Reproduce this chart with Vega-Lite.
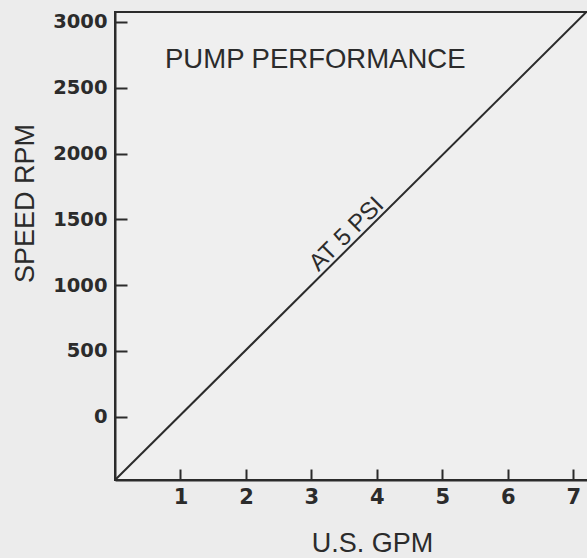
{
  "$schema": "https://vega.github.io/schema/vega-lite/v6.json",
  "width": 474,
  "height": 468,
  "autosize": {"type": "none"},
  "padding": {"left": 115, "top": 12, "right": 0, "bottom": 78},
  "background": "#ececec",
  "config": {
    "view": {"stroke": "#2b2b2b", "strokeWidth": 2, "fill": "#efefef"},
    "font": "Liberation Sans"
  },
  "layer": [
    {
      "data": {"values": [{"gpm": 0, "rpm": -480}, {"gpm": 7.2, "rpm": 3075}]},
      "mark": {"type": "line", "color": "#2b2b2b", "strokeWidth": 2},
      "encoding": {
        "x": {
          "field": "gpm", "type": "quantitative",
          "scale": {"domain": [0, 7.24], "nice": false, "zero": false},
          "axis": {
            "values": [1, 2, 3, 4, 5, 6, 7], "format": "d", "title": "U.S. GPM", "grid": false,
            "domainColor": "#2b2b2b", "domainWidth": 2,
            "tickColor": "#2b2b2b", "tickWidth": 2, "tickSize": -11,
            "labelPadding": 17, "labelFont": "DejaVu Sans", "labelFontSize": 21, "labelFontWeight": "bold", "labelColor": "#2b2b2b",
            "titleFontSize": 27, "titleFontWeight": "normal", "titleColor": "#2b2b2b",
            "titleX": 257, "titleY": 71, "titleBaseline": "alphabetic", "titleAlign": "center"
          }
        },
        "y": {
          "field": "rpm", "type": "quantitative",
          "scale": {"domain": [-480, 3075], "nice": false, "zero": false},
          "axis": {
            "values": [0, 500, 1000, 1500, 2000, 2500, 3000], "title": "SPEED RPM", "grid": false,
            "format": "d",
            "domainColor": "#2b2b2b", "domainWidth": 2,
            "tickColor": "#2b2b2b", "tickWidth": 2, "tickSize": -12,
            "labelPadding": 20, "labelFont": "DejaVu Sans", "labelFontSize": 19.5, "labelFontWeight": "bold", "labelColor": "#2b2b2b",
            "titleFontSize": 27, "titleFontWeight": "normal", "titleColor": "#2b2b2b",
            "titleX": -82, "titleY": 191, "titleBaseline": "alphabetic", "titleAlign": "center", "titleAngle": -90
          }
        }
      }
    },
    {
      "data": {"values": [{"gpm": 0.764, "rpm": 2650, "label": "PUMP PERFORMANCE"}]},
      "mark": {"type": "text", "align": "left", "baseline": "alphabetic", "fontSize": 27.5, "color": "#2b2b2b"},
      "encoding": {
        "x": {"field": "gpm", "type": "quantitative"},
        "y": {"field": "rpm", "type": "quantitative"},
        "text": {"field": "label"}
      }
    },
    {
      "data": {"values": [{"gpm": 3.66, "rpm": 1327, "label": "AT 5 PSI"}]},
      "mark": {"type": "text", "align": "center", "baseline": "alphabetic", "fontSize": 24, "angle": 315.2, "dy": -4, "color": "#2b2b2b"},
      "encoding": {
        "x": {"field": "gpm", "type": "quantitative"},
        "y": {"field": "rpm", "type": "quantitative"},
        "text": {"field": "label"}
      }
    }
  ]
}
